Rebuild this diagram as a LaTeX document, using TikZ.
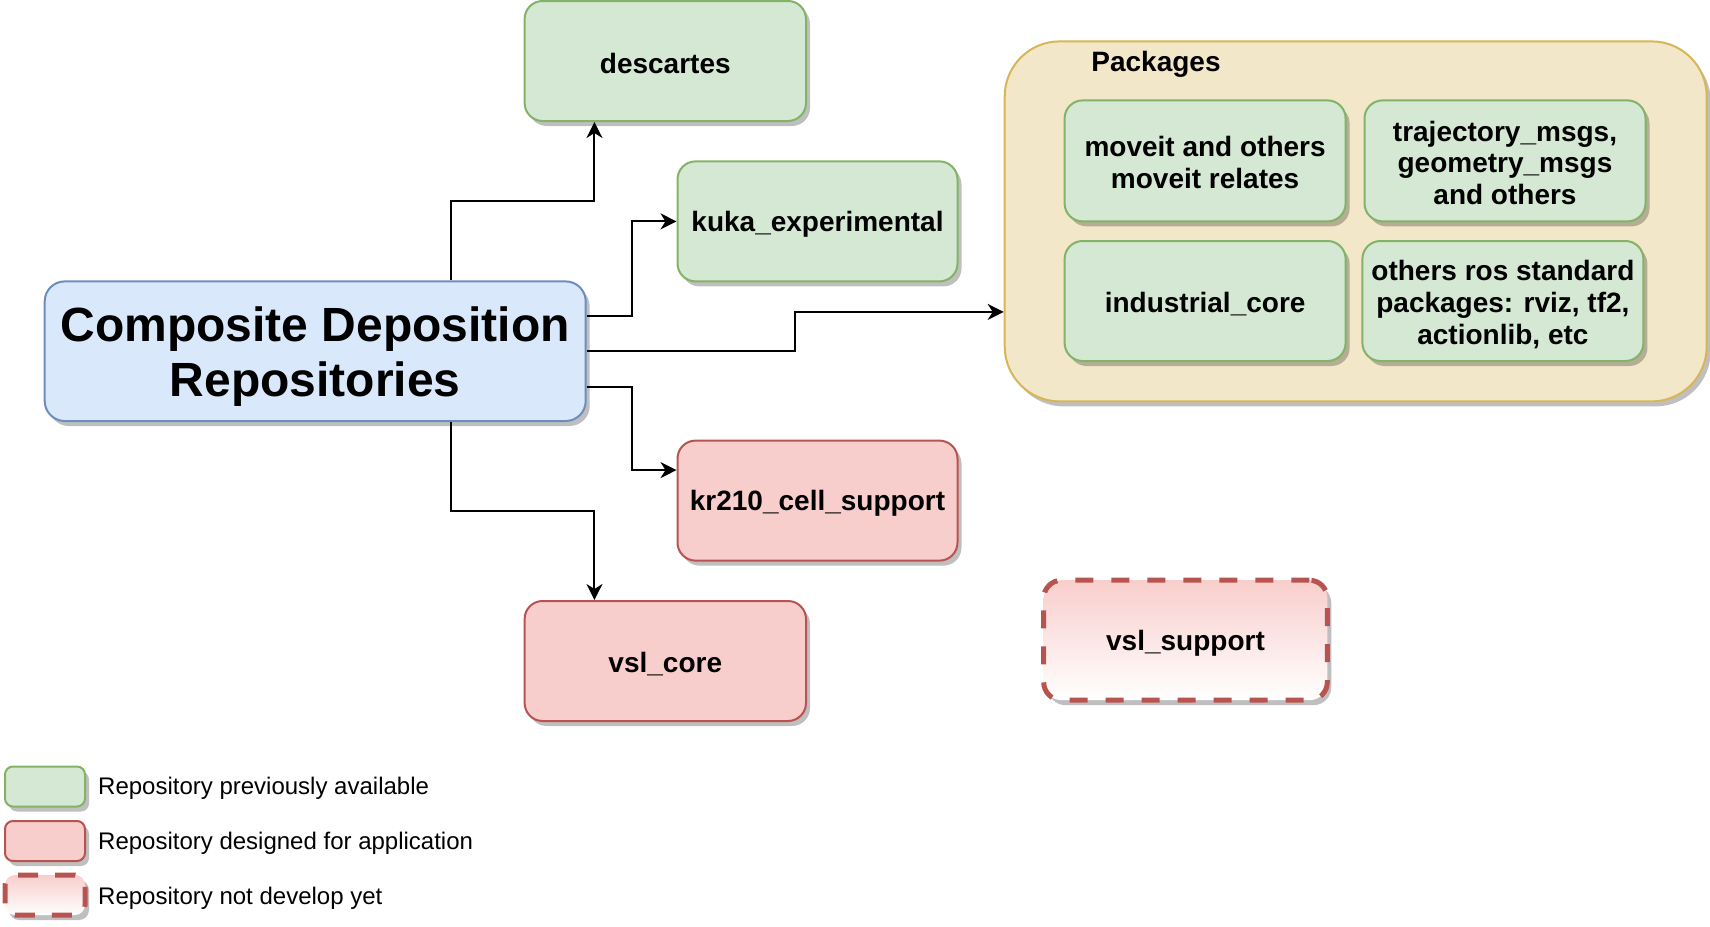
\documentclass[tikz,border=0pt]{standalone}
\usepackage{fontspec}
\setmainfont{Liberation Sans}
\usetikzlibrary{shadows,arrows.meta,calc}
\definecolor{gfill}{HTML}{D5E8D4}
\definecolor{gline}{HTML}{82B366}
\definecolor{rfill}{HTML}{F8CECC}
\definecolor{rline}{HTML}{B85450}
\definecolor{bfill}{HTML}{DAE8FC}
\definecolor{bline}{HTML}{6C8EBF}
\definecolor{yfill}{HTML}{F3E7CA}
\definecolor{yline}{HTML}{D6B656}
\tikzset{
  shad/.style={drop shadow={shadow xshift=4pt, shadow yshift=-5pt, fill=black, opacity=0.25}},
  box/.style={rectangle, rounded corners=18pt, line width=2pt, inner sep=0pt, shad},
  txt/.style={align=center, inner sep=0pt, yshift=-3pt, font=\fontsize{28}{31.6}\selectfont\bfseries},
  bigtxt/.style={align=center, inner sep=0pt, yshift=-5.5pt, font=\fontsize{48}{55.6}\selectfont\bfseries},
  gbox/.style={box, fill=gfill, draw=gline},
  rbox/.style={box, fill=rfill, draw=rline},
  dbox/.style={box, top color=rfill, bottom color=white, draw=rline, line width=5pt,
    dash pattern=on 18pt off 18pt},
  arr/.style={line width=2pt, -{Stealth[length=16pt,width=16pt,inset=5pt]}},
  legtext/.style={anchor=west, font=\fontsize{24}{28}\selectfont, inner sep=0pt},
}
\begin{document}
\begin{tikzpicture}[x=1pt,y=-1pt]
\useasboundingbox (0,0) rectangle (1710,926);

% container
\node[box, fill=yfill, draw=yline, rounded corners=55pt, minimum width=702pt, minimum height=360pt] (pkg) at (1355.7,221.4) {};
\node[font=\fontsize{28}{32}\selectfont\bfseries, inner sep=0pt] (pkglabel) at (1156,64) {Packages};

\node[gbox, minimum width=281pt, minimum height=121pt, label={[txt,yshift=1.5pt]center:{moveit and others\\moveit relates}}] (moveit) at (1205.1,160.9) {};
\node[gbox, minimum width=281pt, minimum height=121pt, label={[txt,yshift=1pt]center:{trajectory\_msgs,\\geometry\_msgs\\and others}}] (traj) at (1505,160.9) {};
\node[gbox, minimum width=281pt, minimum height=120pt, label={[txt]center:{industrial\_core}}] (indus) at (1205.1,301) {};
\node[gbox, minimum width=281pt, minimum height=120pt, label={[txt,yshift=-0.5pt]center:{others ros standard\\packages: rviz, tf2,\\actionlib, etc}}] (ros) at (1502.9,301) {};

% main
\node[box, fill=bfill, draw=bline, rounded corners=20pt, minimum width=541pt, minimum height=139.6pt,
  label={[bigtxt]center:{Composite Deposition\\Repositories}}] (main) at (315.2,351.2) {};

\node[gbox, minimum width=281.4pt, minimum height=120pt, label={[txt,yshift=1pt]center:{descartes}}] (desc) at (665.3,61) {};
\node[gbox, minimum width=280pt, minimum height=120pt, label={[txt]center:{kuka\_experimental}}] (kuka) at (817.5,221.4) {};
\node[rbox, minimum width=280pt, minimum height=120pt, label={[txt]center:{kr210\_cell\_support}}] (kr) at (817.5,500.6) {};
\node[rbox, minimum width=281.4pt, minimum height=120pt, label={[txt]center:{vsl\_core}}] (vslc) at (665.3,661) {};
\node[dbox, minimum width=283.6pt, minimum height=120pt, label={[txt]center:{vsl\_support}}] (vsls) at (1185.5,640.2) {};

% connectors
\coordinate (mN) at ($(main.north west)!0.75!(main.north east)$);
\coordinate (mS) at ($(main.south west)!0.75!(main.south east)$);
\coordinate (mE1) at ($(main.north east)!0.25!(main.south east)$);
\coordinate (mE3) at ($(main.north east)!0.75!(main.south east)$);
\coordinate (dS) at ($(desc.south west)!0.25!(desc.south east)$);
\coordinate (vN) at ($(vslc.north west)!0.25!(vslc.north east)$);
\coordinate (pW) at ($(pkg.north west)!0.75!(pkg.south west)$);
\coordinate (kW) at ($(kr.north west)!0.25!(kr.south west)$);

\draw[arr] (mN) |- ($(mN)!0.5!(dS)$) -| (dS);
\draw[arr] (mE1) -| ($(mE1)!0.5!(kuka.west)$) |- (kuka.west);
\draw[arr] (main.east) -| ($(main.east)!0.5!(pW)$) |- (pW);
\draw[arr] (mE3) -| ($(mE3)!0.5!(kW)$) |- (kW);
\draw[arr] (mS) |- ($(mS)!0.5!(vN)$) -| (vN);

% legend
\node[box, fill=gfill, draw=gline, rounded corners=8pt, minimum width=80pt, minimum height=40pt] (lg) at (45,786.5) {};
\node[box, fill=rfill, draw=rline, rounded corners=8pt, minimum width=80pt, minimum height=40pt] (lr) at (45,841) {};
\node[dbox, rounded corners=10pt, minimum width=80pt, minimum height=40pt, dash pattern=on 20pt off 17pt] (ld) at (45,895) {};
\node[legtext] (tg) at (98,788.5) {Repository previously available};
\node[legtext] (tr) at (98,843.5) {Repository designed for application};
\node[legtext] (td) at (98,898) {Repository not develop yet};
\end{tikzpicture}
\end{document}
